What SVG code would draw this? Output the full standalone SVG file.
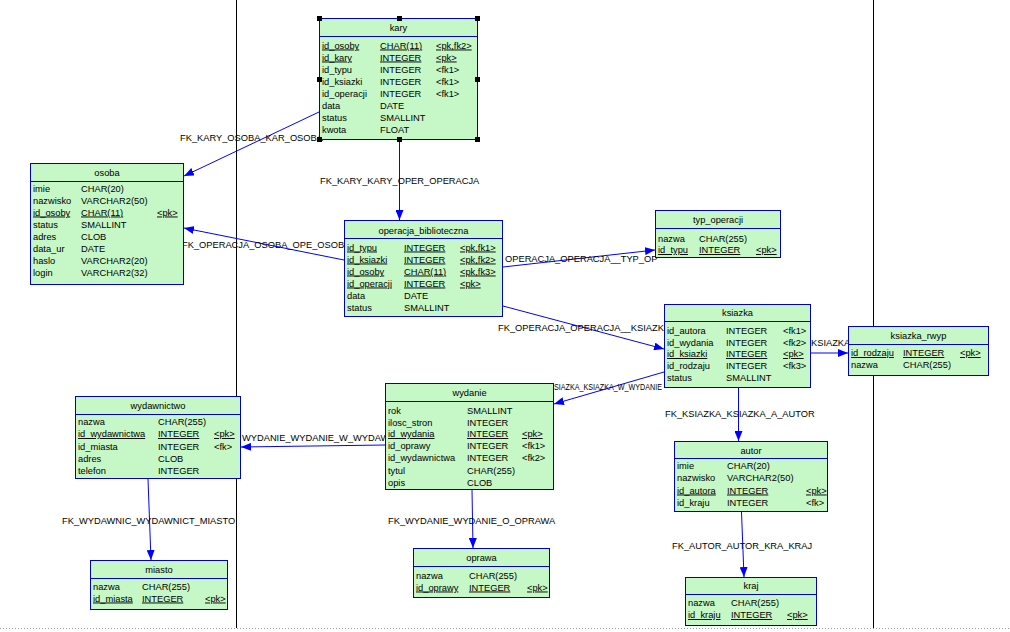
<svg xmlns="http://www.w3.org/2000/svg" width="1010" height="632" viewBox="0 0 1010 632">
<defs>
<marker id="ar" markerUnits="userSpaceOnUse" markerWidth="10" markerHeight="8" refX="10" refY="4" orient="auto">
<path d="M0,0 L10,4 L0,8 z" fill="#0000ff"/>
</marker>
<style>
text{font-family:"Liberation Sans",Arial,sans-serif;font-size:9.3px;fill:#000}
.box{fill:#c6f7c6;stroke:#0000c8;stroke-width:1}
.hl{stroke:#0000c8;stroke-width:1}
.ttl{text-anchor:middle}
.pk{text-decoration:underline}
.cn line{stroke:#0000ff;stroke-width:1;marker-end:url(#ar)}
.pg{stroke:#000;stroke-width:1}
.hd{fill:#000}
</style>
</defs>
<rect width="1010" height="632" fill="#fff"/>
<g id="page">
<line class="pg" x1="236.5" y1="0" x2="236.5" y2="628"/>
<line class="pg" x1="873.5" y1="0" x2="873.5" y2="628"/>
<line x1="0" y1="628.5" x2="1010" y2="628.5" stroke="#999" stroke-dasharray="1,2"/>
</g>
<g id="connectors" class="cn">
<line x1="319" y1="112" x2="184" y2="176"/>
<line x1="399.5" y1="140" x2="399.5" y2="220"/>
<line x1="344" y1="260" x2="184" y2="228"/>
<line x1="503" y1="267" x2="655" y2="250"/>
<line x1="503" y1="306" x2="664" y2="349"/>
<line x1="664" y1="372" x2="554" y2="404"/>
<line x1="811" y1="353" x2="848" y2="353"/>
<line x1="738.5" y1="388" x2="738.5" y2="441"/>
<line x1="741.5" y1="512" x2="744" y2="577"/>
<line x1="385" y1="445" x2="241" y2="447"/>
<line x1="148" y1="479" x2="151" y2="560"/>
<line x1="472" y1="490" x2="473" y2="548"/>
<g id="labels">
<text x="180" y="140.5">FK_KARY_OSOBA_KAR_OSOBA</text>
<text x="320" y="183.5">FK_KARY_KARY_OPER_OPERACJA</text>
<text x="182" y="247.5">FK_OPERACJA_OSOBA_OPE_OSOBA</text>
<text x="505" y="261.5">OPERACJA_OPERACJA__TYP_OP</text>
<text x="498" y="330.5">FK_OPERACJA_OPERACJA__KSIAZK</text>
<text x="554" y="389.5" textLength="108" lengthAdjust="spacingAndGlyphs">SIAZKA_KSIAZKA_W_WYDANIE</text>
<text x="811" y="345.5">KSIAZKA</text>
<text x="665" y="416.5">FK_KSIAZKA_KSIAZKA_A_AUTOR</text>
<text x="672" y="548.5">FK_AUTOR_AUTOR_KRA_KRAJ</text>
<text x="242" y="440.5">WYDANIE_WYDANIE_W_WYDAW</text>
<text x="62" y="523.5">FK_WYDAWNIC_WYDAWNICT_MIASTO</text>
<text x="388" y="523.5">FK_WYDANIE_WYDANIE_O_OPRAWA</text>
</g>
</g>
<g id="kary">
<rect class="box" x="319.5" y="18.5" width="158" height="121"/>
<text class="ttl" x="398.5" y="30.5">kary</text>
<line class="hl" x1="319.5" y1="36.5" x2="477.5" y2="36.5"/>
<text class="pk" x="322" y="48.5">id_osoby</text><text class="pk" x="380" y="48.5">CHAR(11)</text><text class="pk" x="436" y="48.5">&lt;pk,fk2&gt;</text>
<text class="pk" x="322" y="60.5">id_kary</text><text class="pk" x="380" y="60.5">INTEGER</text><text class="pk" x="436" y="60.5">&lt;pk&gt;</text>
<text x="322" y="72.5">id_typu</text><text x="380" y="72.5">INTEGER</text><text x="436" y="72.5">&lt;fk1&gt;</text>
<text x="322" y="84.5">id_ksiazki</text><text x="380" y="84.5">INTEGER</text><text x="436" y="84.5">&lt;fk1&gt;</text>
<text x="322" y="96.5">id_operacji</text><text x="380" y="96.5">INTEGER</text><text x="436" y="96.5">&lt;fk1&gt;</text>
<text x="322" y="108.5">data</text><text x="380" y="108.5">DATE</text>
<text x="322" y="120.5">status</text><text x="380" y="120.5">SMALLINT</text>
<text x="322" y="132.5">kwota</text><text x="380" y="132.5">FLOAT</text>
<rect class="hd" x="317" y="16" width="5" height="5"/><rect class="hd" x="397" y="16" width="5" height="5"/><rect class="hd" x="475" y="16" width="5" height="5"/>
<rect class="hd" x="317" y="77" width="5" height="5"/><rect class="hd" x="475" y="77" width="5" height="5"/>
<rect class="hd" x="317" y="137" width="5" height="5"/><rect class="hd" x="397" y="137" width="5" height="5"/><rect class="hd" x="475" y="137" width="5" height="5"/>
</g>
<g id="osoba">
<rect class="box" x="30.5" y="163.5" width="153" height="121"/>
<text class="ttl" x="107" y="175.5">osoba</text>
<line class="hl" x1="30.5" y1="181.5" x2="183.5" y2="181.5"/>
<text x="33" y="191.5">imie</text><text x="81" y="191.5">CHAR(20)</text>
<text x="33" y="203.5">nazwisko</text><text x="81" y="203.5">VARCHAR2(50)</text>
<text class="pk" x="33" y="215.5">id_osoby</text><text class="pk" x="81" y="215.5">CHAR(11)</text><text class="pk" x="157" y="215.5">&lt;pk&gt;</text>
<text x="33" y="227.5">status</text><text x="81" y="227.5">SMALLINT</text>
<text x="33" y="239.5">adres</text><text x="81" y="239.5">CLOB</text>
<text x="33" y="251.5">data_ur</text><text x="81" y="251.5">DATE</text>
<text x="33" y="263.5">haslo</text><text x="81" y="263.5">VARCHAR2(20)</text>
<text x="33" y="275.5">login</text><text x="81" y="275.5">VARCHAR2(32)</text>
</g>
<g id="operacja_biblioteczna">
<rect class="box" x="344.5" y="220.5" width="158" height="96"/>
<text class="ttl" x="423.5" y="233.5">operacja_biblioteczna</text>
<line class="hl" x1="344.5" y1="238.5" x2="502.5" y2="238.5"/>
<text class="pk" x="347" y="250.5">id_typu</text><text class="pk" x="404" y="250.5">INTEGER</text><text class="pk" x="460" y="250.5">&lt;pk,fk1&gt;</text>
<text class="pk" x="347" y="262.5">id_ksiazki</text><text class="pk" x="404" y="262.5">INTEGER</text><text class="pk" x="460" y="262.5">&lt;pk,fk2&gt;</text>
<text class="pk" x="347" y="274.5">id_osoby</text><text class="pk" x="404" y="274.5">CHAR(11)</text><text class="pk" x="460" y="274.5">&lt;pk,fk3&gt;</text>
<text class="pk" x="347" y="286.5">id_operacji</text><text class="pk" x="404" y="286.5">INTEGER</text><text class="pk" x="460" y="286.5">&lt;pk&gt;</text>
<text x="347" y="298.5">data</text><text x="404" y="298.5">DATE</text>
<text x="347" y="310.5">status</text><text x="404" y="310.5">SMALLINT</text>
</g>
<g id="typ_operacji">
<rect class="box" x="655.5" y="210.5" width="125" height="47"/>
<text class="ttl" x="718" y="223">typ_operacji</text>
<line class="hl" x1="655.5" y1="228.5" x2="780.5" y2="228.5"/>
<text x="658" y="241.5">nazwa</text><text x="699" y="241.5">CHAR(255)</text>
<text class="pk" x="658" y="253">id_typu</text><text class="pk" x="699" y="253">INTEGER</text><text class="pk" x="756" y="253">&lt;pk&gt;</text>
</g>
<g id="ksiazka">
<rect class="box" x="664.5" y="304.5" width="146" height="83"/>
<text class="ttl" x="737.5" y="316">ksiazka</text>
<line class="hl" x1="664.5" y1="321.5" x2="810.5" y2="321.5"/>
<text x="667" y="333.5">id_autora</text><text x="726" y="333.5">INTEGER</text><text x="783" y="333.5">&lt;fk1&gt;</text>
<text x="667" y="345.5">id_wydania</text><text x="726" y="345.5">INTEGER</text><text x="783" y="345.5">&lt;fk2&gt;</text>
<text class="pk" x="667" y="357">id_ksiazki</text><text class="pk" x="726" y="357">INTEGER</text><text class="pk" x="783" y="357">&lt;pk&gt;</text>
<text x="667" y="369">id_rodzaju</text><text x="726" y="369">INTEGER</text><text x="783" y="369">&lt;fk3&gt;</text>
<text x="667" y="381">status</text><text x="726" y="381">SMALLINT</text>
</g>
<g id="ksiazka_rwyp">
<rect class="box" x="848.5" y="326.5" width="140" height="49"/>
<text class="ttl" x="918.5" y="339">ksiazka_rwyp</text>
<line class="hl" x1="848.5" y1="344.5" x2="988.5" y2="344.5"/>
<text class="pk" x="851" y="356">id_rodzaju</text><text class="pk" x="903" y="356">INTEGER</text><text class="pk" x="960" y="356">&lt;pk&gt;</text>
<text x="851" y="368">nazwa</text><text x="903" y="368">CHAR(255)</text>
</g>
<g id="wydawnictwo">
<rect class="box" x="75.5" y="396.5" width="165" height="82"/>
<text class="ttl" x="158" y="409">wydawnictwo</text>
<line class="hl" x1="75.5" y1="414.5" x2="240.5" y2="414.5"/>
<text x="78" y="425">nazwa</text><text x="158" y="425">CHAR(255)</text>
<text class="pk" x="78" y="437">id_wydawnictwa</text><text class="pk" x="158" y="437">INTEGER</text><text class="pk" x="214" y="437">&lt;pk&gt;</text>
<text x="78" y="449.5">id_miasta</text><text x="158" y="449.5">INTEGER</text><text x="214" y="449.5">&lt;fk&gt;</text>
<text x="78" y="461.5">adres</text><text x="158" y="461.5">CLOB</text>
<text x="78" y="474">telefon</text><text x="158" y="474">INTEGER</text>
</g>
<g id="wydanie">
<rect class="box" x="385.5" y="383.5" width="168" height="106"/>
<text class="ttl" x="469.5" y="396">wydanie</text>
<line class="hl" x1="385.5" y1="401.5" x2="553.5" y2="401.5"/>
<text x="388" y="413.5">rok</text><text x="467" y="413.5">SMALLINT</text>
<text x="388" y="425.5">ilosc_stron</text><text x="467" y="425.5">INTEGER</text>
<text class="pk" x="388" y="437">id_wydania</text><text class="pk" x="467" y="437">INTEGER</text><text class="pk" x="522" y="437">&lt;pk&gt;</text>
<text x="388" y="449">id_oprawy</text><text x="467" y="449">INTEGER</text><text x="522" y="449">&lt;fk1&gt;</text>
<text x="388" y="461">id_wydawnictwa</text><text x="467" y="461">INTEGER</text><text x="522" y="461">&lt;fk2&gt;</text>
<text x="388" y="473.5">tytul</text><text x="467" y="473.5">CHAR(255)</text>
<text x="388" y="485.5">opis</text><text x="467" y="485.5">CLOB</text>
</g>
<g id="autor">
<rect class="box" x="674.5" y="441.5" width="153" height="70"/>
<text class="ttl" x="751" y="453.5">autor</text>
<line class="hl" x1="674.5" y1="458.5" x2="827.5" y2="458.5"/>
<text x="677" y="469">imie</text><text x="727" y="469">CHAR(20)</text>
<text x="677" y="481">nazwisko</text><text x="727" y="481">VARCHAR2(50)</text>
<text class="pk" x="677" y="493.5">id_autora</text><text class="pk" x="727" y="493.5">INTEGER</text><text class="pk" x="806" y="493.5">&lt;pk&gt;</text>
<text x="677" y="505.5">id_kraju</text><text x="727" y="505.5">INTEGER</text><text x="806" y="505.5">&lt;fk&gt;</text>
</g>
<g id="miasto">
<rect class="box" x="90.5" y="560.5" width="137" height="49"/>
<text class="ttl" x="159" y="572.5">miasto</text>
<line class="hl" x1="90.5" y1="578.5" x2="227.5" y2="578.5"/>
<text x="93" y="589.5">nazwa</text><text x="142" y="589.5">CHAR(255)</text>
<text class="pk" x="93" y="601.5">id_miasta</text><text class="pk" x="142" y="601.5">INTEGER</text><text class="pk" x="205" y="601.5">&lt;pk&gt;</text>
</g>
<g id="oprawa">
<rect class="box" x="413.5" y="548.5" width="136" height="49"/>
<text class="ttl" x="481.5" y="561">oprawa</text>
<line class="hl" x1="413.5" y1="566.5" x2="549.5" y2="566.5"/>
<text x="416" y="578.5">nazwa</text><text x="469" y="578.5">CHAR(255)</text>
<text class="pk" x="416" y="590.5">id_oprawy</text><text class="pk" x="469" y="590.5">INTEGER</text><text class="pk" x="527" y="590.5">&lt;pk&gt;</text>
</g>
<g id="kraj">
<rect class="box" x="685.5" y="577.5" width="131" height="48"/>
<text class="ttl" x="751" y="589">kraj</text>
<line class="hl" x1="685.5" y1="594.5" x2="816.5" y2="594.5"/>
<text x="688" y="606">nazwa</text><text x="731" y="606">CHAR(255)</text>
<text class="pk" x="688" y="618">id_kraju</text><text class="pk" x="731" y="618">INTEGER</text><text class="pk" x="787" y="618">&lt;pk&gt;</text>
</g>
</svg>
